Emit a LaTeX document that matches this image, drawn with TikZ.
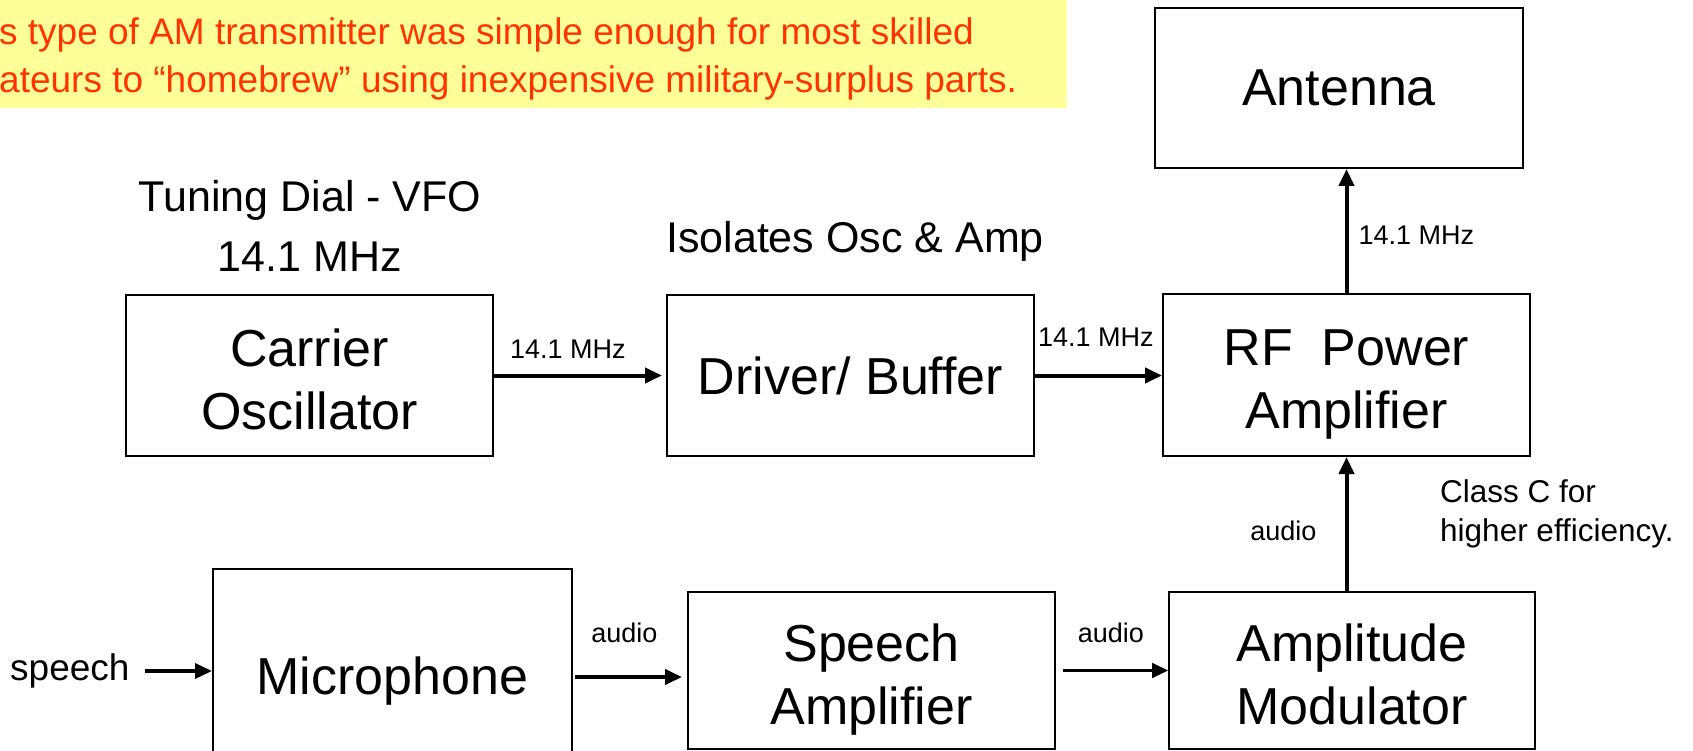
\documentclass[tikz,border=0pt]{standalone}
\usepackage{fontspec}
\setmainfont{Liberation Sans}
\usetikzlibrary{arrows.meta,positioning}
\definecolor{notebg}{HTML}{FFFF99}
\definecolor{notered}{HTML}{FF3300}
\newcommand{\twolines}[2]{\rule{0pt}{44pt}#1\\\raisebox{0pt}[0pt][0pt]{#2}}

\begin{document}
\begin{tikzpicture}[x=1pt,y=-1pt,
  blk/.style={draw,line width=2pt,inner sep=0pt,align=center,font=\fontsize{52}{63}\selectfont},
  arr/.style={line width=4pt,-{Triangle[length=17pt,width=15pt]}},
  thinarr/.style={line width=2.2pt,-{Triangle[length=16pt,width=15pt]}},
  lbl/.style={inner sep=0pt,font=\fontsize{27}{30}\selectfont},
  remark/.style={inner sep=0pt,align=center,font=\fontsize{43}{60}\selectfont}]
\useasboundingbox (0,0) rectangle (1693,751);

\fill[notebg] (0,0) rectangle (1067,108);
\node[anchor=west,align=left,inner sep=0pt,text=notered,font=\fontsize{37}{48}\selectfont] (banner) at (-1,59) {s type of AM transmitter was simple enough for most skilled\\ateurs to “homebrew” using inexpensive military-surplus parts.};

\node[blk,minimum width=368pt,minimum height=160pt] (antenna) at (1339,88) {Antenna};
\node[blk,minimum width=367pt,minimum height=161pt] (carrier) at (309.5,375.5) {\twolines{Carrier}{Oscillator}};
\node[blk,minimum width=367pt,minimum height=161pt] (driver) at (850.5,375.5) {Driver/ Buffer};
\node[blk,minimum width=367pt,minimum height=162pt] (rfamp) at (1346.5,375) {\twolines{RF~~Power}{Amplifier}};
\node[blk,minimum width=359pt,minimum height=224pt] (mic) at (392.5,681) {Microphone};
\node[blk,minimum width=367pt,minimum height=157pt] (speechamp) at (871.5,670.5) {\twolines{Speech}{Amplifier}};
\node[blk,minimum width=366pt,minimum height=157pt] (ammod) at (1352,670.5) {\twolines{Amplitude}{Modulator}};

\node[remark] (tuning) at (310,226) {Tuning Dial - VFO\\14.1 MHz};
\node[remark] (isolates) at (855,241) {Isolates Osc \& Amp};
\node[anchor=west,inner sep=0pt,font=\fontsize{37}{40}\selectfont] (speechin) at (10,671) {speech};
\node[anchor=west,align=left,inner sep=0pt,font=\fontsize{31.5}{39}\selectfont] (classc) at (1440,514) {Class C for\\higher efficiency.};

\draw[arr,shorten >=4pt] (carrier) -- node[lbl,above,pos=0.43,yshift=15pt] (f1) {14.1 MHz} (driver);
\draw[arr] (driver.east) -- node[lbl,above,pos=0.48,yshift=27pt] (f2) {14.1 MHz} (driver.east -| rfamp.west);
\draw[arr] (rfamp.north) -- node[lbl,right,xshift=10pt,yshift=-4pt] (f3) {14.1 MHz} (rfamp.north |- antenna.south);
\draw[arr] (ammod.north -| rfamp.south) -- node[lbl,left,xshift=-28pt,yshift=-7pt] (a3) {audio} (rfamp.south);
\draw[arr,shorten <=2pt,shorten >=5pt] (mic.east |- 0,677) -- node[lbl,above,pos=0.45,yshift=32pt] (a1) {audio} (speechamp.west |- 0,677);
\draw[thinarr,shorten <=7pt] (speechamp.east) -- node[lbl,above,pos=0.49,yshift=27pt] (a2) {audio} (ammod.west);
\draw[arr,line width=3.5pt] ([xshift=15pt]speechin.east) -- (speechin.east -| mic.west);
\end{tikzpicture}
\end{document}
